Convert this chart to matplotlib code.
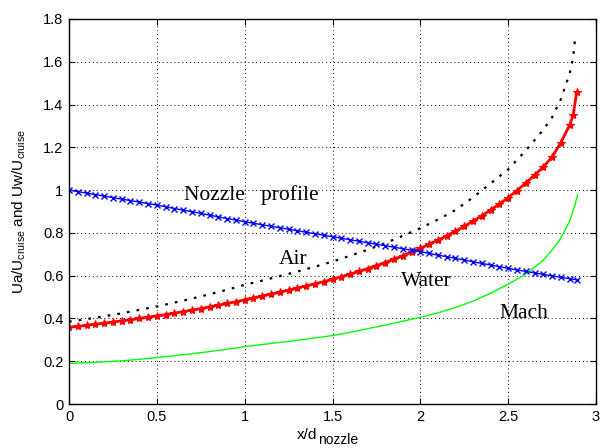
import matplotlib
matplotlib.use("Agg")
import matplotlib.pyplot as plt
from matplotlib.transforms import IdentityTransform

# ---- data ----
x_water = [0.00, 0.05, 0.10, 0.15, 0.20, 0.25, 0.30, 0.35, 0.40, 0.45,
           0.50, 0.55, 0.60, 0.65, 0.70, 0.75, 0.80, 0.85, 0.90, 0.95,
           1.00, 1.05, 1.10, 1.15, 1.20, 1.25, 1.30, 1.35, 1.40, 1.45,
           1.50, 1.55, 1.60, 1.65, 1.70, 1.75, 1.80, 1.85, 1.90, 1.95,
           2.00, 2.05, 2.10, 2.15, 2.20, 2.25, 2.30, 2.35, 2.40, 2.45,
           2.50, 2.55, 2.60, 2.65, 2.70, 2.75, 2.80, 2.85, 2.87, 2.89]
water = [0.359, 0.363, 0.368, 0.373, 0.378, 0.383, 0.389, 0.394, 0.400, 0.406,
         0.412, 0.418, 0.425, 0.432, 0.439, 0.446, 0.454, 0.462, 0.470, 0.478,
         0.487, 0.496, 0.505, 0.514, 0.523, 0.532, 0.542, 0.552, 0.562, 0.572,
         0.583, 0.595, 0.607, 0.620, 0.633, 0.647, 0.661, 0.677, 0.693, 0.710,
         0.728, 0.747, 0.766, 0.786, 0.808, 0.831, 0.855, 0.880, 0.907, 0.935,
         0.965, 0.998, 1.033, 1.070, 1.108, 1.155, 1.222, 1.305, 1.350, 1.457]

x_nozzle = [0.00, 0.05, 0.10, 0.15, 0.20, 0.25, 0.30, 0.35, 0.40, 0.45,
            0.50, 0.55, 0.60, 0.65, 0.70, 0.75, 0.80, 0.85, 0.90, 0.95,
            1.00, 1.05, 1.10, 1.15, 1.20, 1.25, 1.30, 1.35, 1.40, 1.45,
            1.50, 1.55, 1.60, 1.65, 1.70, 1.75, 1.80, 1.85, 1.90, 1.95,
            2.00, 2.05, 2.10, 2.15, 2.20, 2.25, 2.30, 2.35, 2.40, 2.45,
            2.50, 2.55, 2.60, 2.65, 2.70, 2.75, 2.80, 2.85, 2.89]
nozzle = [1.000, 0.993, 0.986, 0.979, 0.972, 0.965, 0.958, 0.951, 0.944, 0.937,
          0.930, 0.922, 0.914, 0.906, 0.899, 0.891, 0.883, 0.875, 0.867, 0.860,
          0.852, 0.845, 0.838, 0.831, 0.824, 0.817, 0.810, 0.803, 0.796, 0.789,
          0.782, 0.775, 0.768, 0.761, 0.754, 0.747, 0.740, 0.733, 0.726, 0.719,
          0.712, 0.704, 0.696, 0.689, 0.681, 0.673, 0.665, 0.657, 0.650, 0.642,
          0.634, 0.627, 0.620, 0.613, 0.606, 0.599, 0.592, 0.586, 0.580]

x_air = [0.0, 0.1, 0.2, 0.3, 0.4, 0.5, 0.6, 0.7, 0.8, 0.9,
         1.0, 1.1, 1.2, 1.3, 1.4, 1.5, 1.6, 1.7, 1.8, 1.9,
         2.0, 2.1, 2.2, 2.3, 2.4, 2.5, 2.6, 2.7, 2.75, 2.8, 2.85, 2.87, 2.88]
air = [0.385, 0.397, 0.410, 0.424, 0.440, 0.456, 0.474, 0.493, 0.513, 0.534,
       0.557, 0.577, 0.598, 0.619, 0.642, 0.666, 0.693, 0.721, 0.752, 0.786,
       0.822, 0.862, 0.907, 0.966, 1.031, 1.097, 1.185, 1.282, 1.340, 1.425,
       1.545, 1.620, 1.703]

x_mach = [0.0, 0.1, 0.2, 0.3, 0.4, 0.5, 0.6, 0.7, 0.8, 0.9,
          1.0, 1.1, 1.2, 1.3, 1.4, 1.5, 1.6, 1.7, 1.8, 1.9,
          2.0, 2.1, 2.2, 2.3, 2.4, 2.5, 2.6, 2.7, 2.75, 2.8, 2.85, 2.88, 2.895]
mach = [0.190, 0.193, 0.197, 0.202, 0.209, 0.217, 0.226, 0.235, 0.245, 0.256,
        0.268, 0.278, 0.288, 0.298, 0.309, 0.320, 0.335, 0.352, 0.369, 0.387,
        0.405, 0.426, 0.451, 0.481, 0.518, 0.560, 0.607, 0.672, 0.720, 0.775,
        0.855, 0.930, 0.978]

x_ticks = [0, 0.5, 1, 1.5, 2, 2.5, 3]
x_ticklabels = ["0", "0.5", "1", "1.5", "2", "2.5", "3"]
y_ticks = [0, 0.2, 0.4, 0.6, 0.8, 1.0, 1.2, 1.4, 1.6, 1.8]
y_ticklabels = ["0", "0.2", "0.4", "0.6", "0.8", "1", "1.2", "1.4", "1.6", "1.8"]

labels = ["Nozzle   profile", "Air", "Water", "Mach"]
label_x = [0.656, 1.275, 2.036, 2.587]
label_y = [0.975, 0.674, 0.571, 0.421]
label_ha = ["left", "center", "center", "center"]

# ---- styling ----
plt.rcParams['font.family'] = ['Liberation Sans', 'DejaVu Sans']
plt.rcParams['mathtext.fontset'] = 'custom'
plt.rcParams['mathtext.rm'] = 'Liberation Sans'
plt.rcParams['mathtext.it'] = 'Liberation Sans:italic'

fig = plt.figure(figsize=(6.01, 4.48), dpi=100)
ax = fig.add_axes([69 / 601, 44 / 448, 527 / 601, 385 / 448])

ax.plot(x_mach, mach, color='#00ff00', lw=1.0)
ax.plot(x_air, air, color='black', lw=1.6, linestyle=(0, (1.2, 3.2)))
ax.plot(x_water, water, color='#ff0000', lw=2.0, marker='*', ms=6, mew=0.8)
ax.plot(x_nozzle, nozzle, color='#0000ff', lw=1.0, marker='x', ms=4, mew=1.0)

ax.set_xlim(0, 3)
ax.set_ylim(0, 1.8)
ax.set_xticks(x_ticks)
ax.set_xticklabels(x_ticklabels)
ax.set_yticks(y_ticks)
ax.set_yticklabels(y_ticklabels)
ax.tick_params(direction='in', top=True, right=True, labelsize=10.5, length=4,
               width=0.8, pad=4)
ax.grid(True, color='black', linestyle=(0, (1, 3)), lw=0.7)
for s in ax.spines.values():
    s.set_linewidth(1.0)

# y label (mathtext subscripts)
ax.set_ylabel(r'Ua/U$_{\mathrm{cruise}}$ and Uw/U$_{\mathrm{cruise}}$',
              fontsize=11)
ax.yaxis.set_label_coords(-0.078, 0.5)

# x label built from base text and a near full-size subscript
fig.canvas.draw()
renderer = fig.canvas.get_renderer()
t1 = fig.text(297, 9, "x/d", fontsize=11, ha='left', va='baseline',
              transform=IdentityTransform())
bb = t1.get_window_extent(renderer)
fig.text(bb.x1 + 0.5, 4, "nozzle", fontsize=10, ha='left', va='baseline',
         transform=IdentityTransform())

for t, tx, ty, ha in zip(labels, label_x, label_y, label_ha):
    ax.text(tx, ty, t, family='Liberation Serif', fontsize=15.5,
            ha=ha, va='center')

fig.savefig('out.png', dpi=100)
